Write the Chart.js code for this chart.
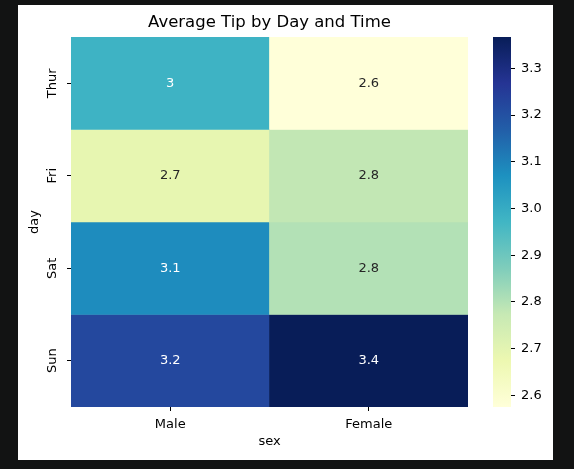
<!DOCTYPE html>
<html>
<head>
<meta charset="utf-8">
<script src="https://cdn.jsdelivr.net/npm/chart.js@4"></script>
<style>
  html, body { margin: 0; padding: 0; background: #121313; width: 574px; height: 469px; overflow: hidden; }
  #fig { position: absolute; left: 18px; top: 5px; width: 535px; height: 455px; background: #fff; }
  canvas { position: absolute; top: 0; }
</style>
</head>
<body>
<div id="fig">
  <canvas id="heat" width="470" height="455" style="left:0"></canvas>
  <canvas id="cbar" width="65" height="455" style="left:470px"></canvas>
</div>
<script>
// データ（平均チップ、曜日 × 性別）
const days = ['Thur', 'Fri', 'Sat', 'Sun'];
const sexes = ['Male', 'Female'];
const thurTips = [2.98, 2.575];
const friTips = [2.69, 2.78];
const satTips = [3.08, 2.80];
const sunTips = [3.22, 3.367];
const cbTicks = [2.6, 2.7, 2.8, 2.9, 3.0, 3.1, 3.2, 3.3];

const tipRows = [thurTips, friTips, satTips, sunTips];
const allTips = tipRows.flat();
const vmin = Math.min(...allTips);
const vmax = Math.max(...allTips);

// YlGnBu カラーマップ
const ylgnbu = [
  [255, 255, 217], [237, 248, 177], [199, 233, 180], [127, 205, 187], [65, 182, 196],
  [29, 145, 192], [34, 94, 168], [37, 52, 148], [8, 29, 88]
];

function cmap(v) {
  let t = (v - vmin) / (vmax - vmin);
  t = Math.max(0, Math.min(1, t)) * (ylgnbu.length - 1);
  const i = Math.min(Math.floor(t), ylgnbu.length - 2);
  const f = t - i;
  return ylgnbu[i].map((c, k) => c + (ylgnbu[i + 1][k] - c) * f);
}

function rgb(c) {
  return `rgb(${c.map(Math.round).join(',')})`;
}

// 文字色（セルの明るさで決める）
function textColor(c) {
  const lin = c.map(x => {
    x = x / 255;
    return x <= 0.03928 ? x / 12.92 : Math.pow((x + 0.055) / 1.055, 2.4);
  });
  const lum = 0.2126 * lin[0] + 0.7152 * lin[1] + 0.0722 * lin[2];
  return lum > 0.408 ? '#262626' : '#ffffff';
}

Chart.defaults.font.family = '"DejaVu Sans", sans-serif';
Chart.defaults.font.size = 13;
Chart.defaults.color = '#000';

// セルの数値と曜日ラベルを描く
const heatLabels = {
  id: 'heatLabels',
  afterDatasetsDraw(chart) {
    const ctx = chart.ctx;
    ctx.save();
    ctx.font = '13px "DejaVu Sans"';
    ctx.textAlign = 'center';
    ctx.textBaseline = 'middle';
    chart.data.datasets.forEach((ds, i) => {
      chart.getDatasetMeta(i).data.forEach((bar, j) => {
        const v = tipRows[i][j];
        ctx.fillStyle = textColor(cmap(v));
        ctx.fillText(String(Number(v.toPrecision(2))), bar.x, (bar.y + bar.base) / 2);
      });
    });
    const ys = chart.scales.y;
    ctx.fillStyle = '#000';
    days.forEach((d, i) => {
      ctx.save();
      ctx.translate(ys.right - 18, ys.getPixelForValue(i + 0.5));
      ctx.rotate(-Math.PI / 2);
      ctx.fillText(d, 0, 0);
      ctx.restore();
    });
    ctx.restore();
  }
};

new Chart(document.getElementById('heat'), {
  type: 'bar',
  data: {
    labels: sexes,
    datasets: days.map((d, i) => ({
      label: d,
      data: sexes.map(() => 1),
      backgroundColor: tipRows[i].map(v => rgb(cmap(v))),
      borderWidth: 0,
      barPercentage: 1,
      categoryPercentage: 1
    }))
  },
  options: {
    responsive: false,
    animation: false,
    layout: { padding: { left: 0, right: 20, top: 0, bottom: 0 } },
    plugins: {
      legend: { display: false },
      tooltip: { enabled: false },
      title: {
        display: true,
        text: 'Average Tip by Day and Time',
        fullSize: false,
        color: '#000',
        font: { size: 16.5, weight: 'normal' },
        padding: { top: 8, bottom: 4.2 }
      }
    },
    scales: {
      x: {
        stacked: true,
        border: { display: false },
        grid: { drawOnChartArea: false, offset: false, tickLength: 4, tickColor: '#000' },
        ticks: { padding: 6, color: '#000' },
        title: { display: true, text: 'sex', color: '#000', padding: { top: 0, bottom: 10.5 } },
        afterFit(s) { s.height = 53; }
      },
      y: {
        stacked: true,
        reverse: true,
        min: 0,
        max: days.length,
        border: { display: false },
        grid: { drawOnChartArea: false, tickLength: 4, tickColor: '#000' },
        ticks: { display: false },
        afterBuildTicks(s) { s.ticks = days.map((d, i) => ({ value: i + 0.5 })); },
        title: { display: true, text: 'day', color: '#000', padding: { top: 9, bottom: 0 } },
        afterFit(s) { s.width = 53; }
      }
    }
  },
  plugins: [heatLabels]
});

// カラーバー
new Chart(document.getElementById('cbar'), {
  type: 'bar',
  data: {
    labels: [''],
    datasets: [{
      data: [[vmin, vmax]],
      borderWidth: 0,
      barPercentage: 1,
      categoryPercentage: 1,
      backgroundColor(c) {
        const chart = c.chart;
        if (!chart.chartArea) return null;
        const ys = chart.scales.y;
        const g = chart.ctx.createLinearGradient(0, ys.getPixelForValue(vmin), 0, ys.getPixelForValue(vmax));
        ylgnbu.forEach((col, k) => g.addColorStop(k / (ylgnbu.length - 1), rgb(col)));
        return g;
      }
    }]
  },
  options: {
    responsive: false,
    animation: false,
    layout: { padding: { left: 5, right: 0, top: 32, bottom: 53 } },
    plugins: { legend: { display: false }, tooltip: { enabled: false } },
    scales: {
      x: { display: false },
      y: {
        position: 'right',
        min: vmin,
        max: vmax,
        border: { display: false },
        grid: { drawOnChartArea: false, tickLength: 4, tickColor: '#000' },
        afterBuildTicks(s) { s.ticks = cbTicks.map(v => ({ value: v })); },
        ticks: { padding: 6, color: '#000', callback: v => v.toFixed(1) },
        afterFit(s) { s.width = 42; }
      }
    }
  }
});
</script>
</body>
</html>
